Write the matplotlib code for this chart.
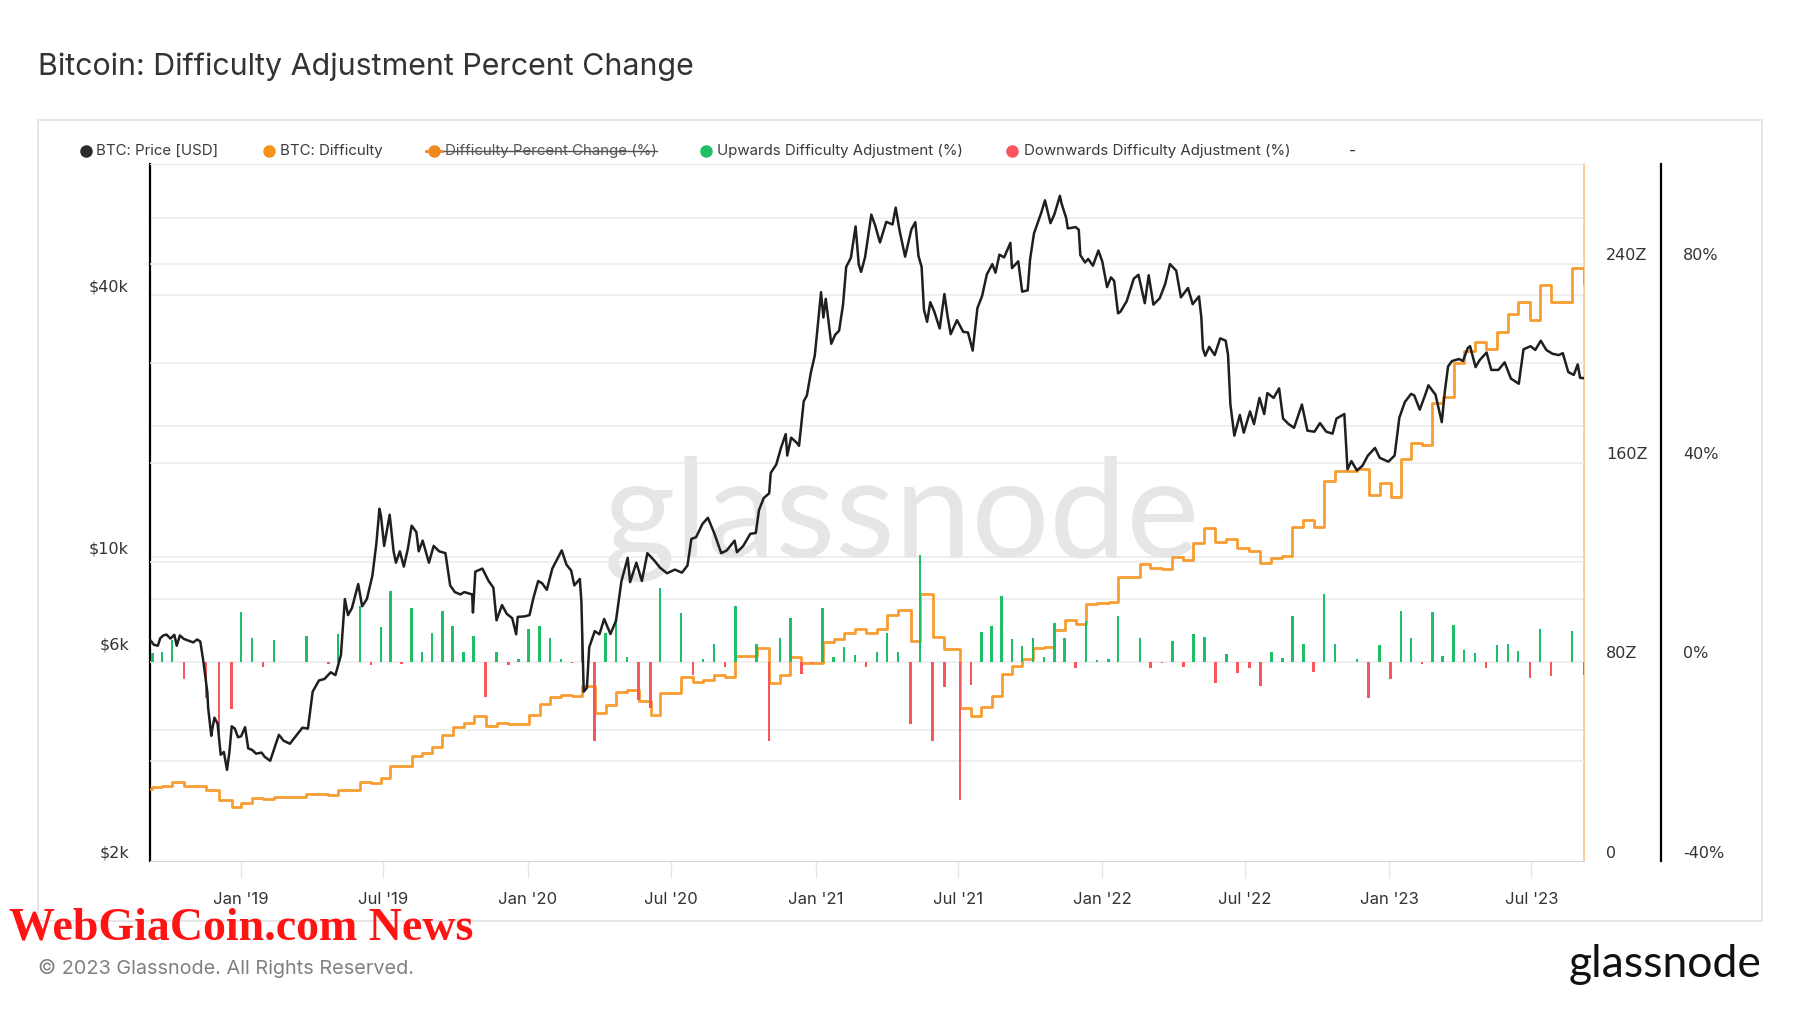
import matplotlib
matplotlib.use('Agg')
import matplotlib.pyplot as plt
import pandas as pd
from matplotlib.lines import Line2D
from matplotlib.patches import Rectangle
from matplotlib.transforms import blended_transform_factory, offset_copy

plt.rcParams['font.family'] = ['Inter', 'DejaVu Sans']

# ---------------- data ----------------
price_dates = [
    '2018-09-07', '2018-09-12', '2018-09-17', '2018-09-20', '2018-09-24', '2018-09-28', '2018-10-03',
    '2018-10-08', '2018-10-11', '2018-10-15', '2018-10-20', '2018-10-26', '2018-11-01', '2018-11-06',
    '2018-11-10', '2018-11-14', '2018-11-19', '2018-11-20', '2018-11-24', '2018-11-25', '2018-11-28',
    '2018-12-02', '2018-12-06', '2018-12-10', '2018-12-14', '2018-12-17', '2018-12-20', '2018-12-24',
    '2018-12-28', '2019-01-01', '2019-01-06', '2019-01-10', '2019-01-15', '2019-01-20', '2019-01-27',
    '2019-01-31', '2019-02-07', '2019-02-12', '2019-02-18', '2019-02-24', '2019-03-04', '2019-03-12',
    '2019-03-20', '2019-03-27', '2019-04-02', '2019-04-10', '2019-04-17', '2019-04-25', '2019-05-01',
    '2019-05-08', '2019-05-13', '2019-05-17', '2019-05-22', '2019-05-30', '2019-06-04', '2019-06-10',
    '2019-06-17', '2019-06-22', '2019-06-26', '2019-06-28', '2019-07-02', '2019-07-09', '2019-07-14',
    '2019-07-17', '2019-07-22', '2019-07-27', '2019-08-01', '2019-08-06', '2019-08-12', '2019-08-15',
    '2019-08-20', '2019-08-28', '2019-09-03', '2019-09-10', '2019-09-18', '2019-09-24', '2019-09-30',
    '2019-10-07', '2019-10-12', '2019-10-22', '2019-10-23', '2019-10-26', '2019-11-04', '2019-11-12',
    '2019-11-18', '2019-11-22', '2019-11-29', '2019-12-05', '2019-12-12', '2019-12-17', '2019-12-19',
    '2019-12-28', '2020-01-03', '2020-01-08', '2020-01-14', '2020-01-19', '2020-01-25', '2020-02-01',
    '2020-02-10', '2020-02-13', '2020-02-19', '2020-02-25', '2020-02-29', '2020-03-07', '2020-03-09',
    '2020-03-12', '2020-03-16', '2020-03-19', '2020-03-26', '2020-04-01', '2020-04-07', '2020-04-15',
    '2020-04-22', '2020-04-29', '2020-05-07', '2020-05-10', '2020-05-18', '2020-05-25', '2020-06-01',
    '2020-06-10', '2020-06-17', '2020-06-26', '2020-07-06', '2020-07-15', '2020-07-22', '2020-07-27',
    '2020-08-02', '2020-08-10', '2020-08-17', '2020-08-25', '2020-09-03', '2020-09-10', '2020-09-20',
    '2020-09-23', '2020-10-01', '2020-10-10', '2020-10-17', '2020-10-21', '2020-10-27', '2020-11-03',
    '2020-11-05', '2020-11-12', '2020-11-18', '2020-11-24', '2020-11-26', '2020-12-01', '2020-12-08',
    '2020-12-11', '2020-12-17', '2020-12-21', '2020-12-26', '2020-12-31', '2021-01-03', '2021-01-08',
    '2021-01-11', '2021-01-14', '2021-01-21', '2021-01-26', '2021-01-31', '2021-02-05', '2021-02-09',
    '2021-02-15', '2021-02-21', '2021-02-25', '2021-02-28', '2021-03-05', '2021-03-13', '2021-03-18',
    '2021-03-24', '2021-04-01', '2021-04-09', '2021-04-13', '2021-04-18', '2021-04-25', '2021-05-03',
    '2021-05-08', '2021-05-12', '2021-05-16', '2021-05-19', '2021-05-23', '2021-05-27', '2021-06-01',
    '2021-06-08', '2021-06-14', '2021-06-18', '2021-06-22', '2021-06-30', '2021-07-08', '2021-07-14',
    '2021-07-20', '2021-07-26', '2021-08-01', '2021-08-07', '2021-08-14', '2021-08-18', '2021-08-23',
    '2021-08-29', '2021-09-06', '2021-09-08', '2021-09-16', '2021-09-21', '2021-09-28', '2021-10-01',
    '2021-10-06', '2021-10-15', '2021-10-20', '2021-10-27', '2021-11-01', '2021-11-08', '2021-11-10',
    '2021-11-16', '2021-11-18', '2021-11-24', '2021-11-28', '2021-12-02', '2021-12-04', '2021-12-10',
    '2021-12-14', '2021-12-20', '2021-12-27', '2022-01-01', '2022-01-07', '2022-01-12', '2022-01-16',
    '2022-01-21', '2022-01-24', '2022-02-01', '2022-02-10', '2022-02-16', '2022-02-24', '2022-03-01',
    '2022-03-07', '2022-03-15', '2022-03-22', '2022-03-28', '2022-04-05', '2022-04-11', '2022-04-20',
    '2022-04-26', '2022-05-04', '2022-05-07', '2022-05-09', '2022-05-12', '2022-05-17', '2022-05-24',
    '2022-05-31', '2022-06-07', '2022-06-10', '2022-06-13', '2022-06-18', '2022-06-25', '2022-06-30',
    '2022-07-08', '2022-07-13', '2022-07-20', '2022-07-26', '2022-07-30', '2022-08-07', '2022-08-14',
    '2022-08-19', '2022-08-26', '2022-09-02', '2022-09-12', '2022-09-19', '2022-09-28', '2022-10-05',
    '2022-10-13', '2022-10-21', '2022-10-26', '2022-11-05', '2022-11-09', '2022-11-14', '2022-11-21',
    '2022-11-28', '2022-12-05', '2022-12-14', '2022-12-20', '2022-12-31', '2023-01-08', '2023-01-14',
    '2023-01-21', '2023-01-29', '2023-02-02', '2023-02-09', '2023-02-16', '2023-02-20', '2023-03-01',
    '2023-03-09', '2023-03-13', '2023-03-17', '2023-03-22', '2023-03-31', '2023-04-05', '2023-04-11',
    '2023-04-14', '2023-04-21', '2023-04-26', '2023-05-05', '2023-05-11', '2023-05-20', '2023-05-28',
    '2023-06-05', '2023-06-15', '2023-06-21', '2023-06-30', '2023-07-06', '2023-07-13', '2023-07-20',
    '2023-07-28', '2023-08-05', '2023-08-10', '2023-08-17', '2023-08-24', '2023-08-29', '2023-09-01',
    '2023-09-06']
price_usd = [
    6450, 6280, 6250, 6500, 6600, 6630, 6490, 6620, 6250, 6600, 6480, 6420, 6360, 6460,
    6390, 5740, 4880, 4500, 3880, 4000, 4270, 4140, 3510, 3560, 3240, 3550, 4080, 4030,
    3850, 3870, 4060, 3630, 3600, 3530, 3550, 3470, 3400, 3620, 3900, 3780, 3720, 3880,
    4050, 4030, 4900, 5200, 5240, 5430, 5350, 5950, 8000, 7350, 7630, 8660, 7700, 8000,
    9050, 10700, 12900, 12400, 10600, 12500, 10300, 9700, 10300, 9500, 10400, 11800, 11400, 10300,
    10900, 9700, 10600, 10300, 10200, 8600, 8300, 8200, 8300, 8200, 7450, 9250, 9400, 8800,
    8500, 7150, 7750, 7400, 7230, 6640, 7280, 7300, 7350, 8050, 8800, 8700, 8400, 9400,
    10100, 10350, 9600, 9300, 8600, 8900, 7900, 4900, 5000, 6200, 6750, 6640, 7200, 6650,
    7130, 8800, 9950, 8750, 9700, 8800, 10200, 9800, 9450, 9170, 9350, 9200, 9550, 11000,
    11100, 11900, 12300, 11350, 10200, 10350, 10900, 10250, 10600, 11300, 11350, 12800, 13650, 14000,
    15600, 16300, 17800, 19150, 17100, 18800, 18300, 18000, 22800, 23500, 26500, 29000, 32800, 40600,
    35500, 39200, 30900, 32400, 33100, 38000, 46400, 48700, 57500, 47000, 45200, 48800, 61200, 57700,
    52800, 58900, 58100, 63500, 56200, 49000, 56600, 58800, 49200, 46400, 37000, 34700, 38500, 36700,
    33500, 40200, 35800, 32500, 35000, 32900, 32800, 29800, 37300, 39800, 44600, 47100, 45000, 49500,
    48800, 52700, 46100, 47800, 40700, 41000, 48200, 55400, 61600, 66000, 58500, 61300, 67600, 65000,
    60100, 56900, 57100, 57300, 56500, 49400, 47500, 48400, 46700, 50600, 47700, 41700, 43900, 43100,
    36300, 36600, 38700, 43600, 44500, 38300, 44400, 38000, 39300, 42400, 47100, 45500, 39500, 41500,
    38100, 39700, 35500, 30100, 29000, 30400, 29100, 31800, 31400, 29100, 22400, 19000, 21200, 19300,
    21600, 20200, 23200, 21300, 23800, 23200, 24400, 20800, 20200, 19800, 22400, 19500, 19400, 20300,
    19400, 19200, 20800, 21300, 15900, 16600, 15800, 16200, 17100, 17800, 16900, 16550, 17100, 20900,
    22700, 23700, 23500, 21800, 23600, 24800, 23600, 20400, 24100, 27400, 28200, 28500, 28200, 30200,
    30500, 27300, 28300, 29500, 26900, 26900, 28000, 25700, 25000, 30000, 30500, 29900, 31400, 29900,
    29300, 29100, 29400, 26600, 26200, 27700, 25800, 25750]

# difficulty adjustments: date, percent change, difficulty level after (axis units Z)
adj_dates = [
    '2018-09-10', '2018-09-22', '2018-10-05', '2018-10-20', '2018-11-17', '2018-12-04', '2018-12-20',
    '2019-01-01', '2019-01-15', '2019-01-29', '2019-02-12', '2019-03-25', '2019-04-22', '2019-05-04',
    '2019-06-01', '2019-06-15', '2019-06-28', '2019-07-10', '2019-07-24', '2019-08-06', '2019-08-19',
    '2019-09-01', '2019-09-14', '2019-09-27', '2019-10-11', '2019-10-24', '2019-11-08', '2019-11-22',
    '2019-12-07', '2019-12-20', '2020-01-02', '2020-01-16', '2020-01-29', '2020-02-12', '2020-02-26',
    '2020-03-10', '2020-03-26', '2020-04-09', '2020-04-22', '2020-05-06', '2020-05-21', '2020-06-05',
    '2020-06-17', '2020-07-14', '2020-07-29', '2020-08-11', '2020-08-25', '2020-09-08', '2020-09-21',
    '2020-10-18', '2020-11-03', '2020-11-17', '2020-11-30', '2020-12-14', '2020-12-28', '2021-01-10',
    '2021-01-24', '2021-02-06', '2021-02-20', '2021-03-06', '2021-03-20', '2021-04-02', '2021-04-16',
    '2021-05-02', '2021-05-14', '2021-05-30', '2021-06-14', '2021-07-04', '2021-07-18', '2021-07-31',
    '2021-08-13', '2021-08-26', '2021-09-08', '2021-09-21', '2021-10-05', '2021-10-19', '2021-11-01',
    '2021-11-14', '2021-11-28', '2021-12-11', '2021-12-25', '2022-01-09', '2022-01-21', '2022-02-18',
    '2022-03-03', '2022-03-18', '2022-03-31', '2022-04-14', '2022-04-27', '2022-05-11', '2022-05-25',
    '2022-06-08', '2022-06-22', '2022-07-07', '2022-07-21', '2022-08-04', '2022-08-18', '2022-08-31',
    '2022-09-14', '2022-09-27', '2022-10-10', '2022-10-24', '2022-11-21', '2022-12-06', '2022-12-20',
    '2023-01-03', '2023-01-16', '2023-01-29', '2023-02-12', '2023-02-25', '2023-03-10', '2023-03-24',
    '2023-04-06', '2023-04-20', '2023-05-04', '2023-05-18', '2023-06-01', '2023-06-14', '2023-06-29',
    '2023-07-12', '2023-07-26', '2023-08-22', '2023-09-06']
adj_pct = [
    1.7, 2.0, 4.3, -3.5, -7.3, -15.1, -9.5,
    10.0, 4.8, -1.0, 4.3, 5.2, -0.5, 5.5,
    11.3, -0.7, 7.1, 14.2, -0.4, 10.9, 2.0,
    5.8, 10.3, 7.3, 2.0, 5.2, -7.0, 2.0,
    -0.7, 0.5, 6.7, 7.2, 4.7, 0.5, -0.3,
    6.8, -15.8, 5.7, 8.3, 1.0, -7.6, -9.2,
    14.9, 9.9, -2.7, 0.5, 3.6, -1.1, 11.3,
    3.6, -15.8, 4.8, 8.9, -2.4, -0.3, 10.8,
    1.0, 2.9, 1.3, -1.1, 1.9, 5.8, 1.9,
    -12.4, 21.5, -15.8, -5.1, -27.7, -4.6, 6.0,
    7.3, 13.2, 4.5, 3.1, 4.8, 0.9, 7.8,
    4.8, -1.3, 8.3, 0.3, 0.5, 9.3, 4.8,
    -1.3, -0.3, 4.1, -1.1, 5.6, 4.9, -4.3,
    1.5, -2.3, -1.3, -4.9, 1.9, 0.7, 9.3,
    3.5, -2.1, 13.6, 3.5, 0.5, -7.3, 3.3,
    -3.5, 10.3, 4.8, -0.4, 10.0, 1.2, 7.5,
    2.3, 1.7, -1.3, 3.3, 3.5, 2.1, -3.2,
    6.5, -2.9, 6.1, -2.6]
difficulty_start = 29.1
difficulty = [
    29.6, 30.2, 31.6, 30.2, 28.5, 24.5, 21.8,
    23.4, 25.2, 24.8, 25.8, 26.8, 26.7, 28.5,
    31.6, 31.4, 33.2, 38.3, 38.2, 42.1, 43.2,
    45.9, 50.6, 53.7, 55.5, 58.2, 54.2, 55.3,
    55.0, 55.2, 58.6, 62.9, 66.0, 66.5, 66.3,
    70.4, 59.3, 62.7, 67.8, 68.6, 64.3, 58.6,
    67.3, 74.0, 72.0, 72.7, 74.9, 74.0, 82.4,
    85.4, 71.6, 74.9, 81.8, 79.6, 79.4, 88.0,
    89.1, 91.4, 93.0, 91.6, 93.4, 98.7, 101.0,
    88.4, 107.2, 90.0, 85.1, 61.3, 58.2, 61.9,
    66.4, 75.3, 78.3, 81.1, 85.4, 86.0, 92.7,
    97.0, 95.4, 103.4, 103.7, 104.1, 113.9, 119.5,
    117.9, 117.2, 122.1, 120.8, 127.6, 133.7, 128.0,
    129.5, 125.8, 124.5, 119.6, 121.9, 122.7, 134.0,
    136.9, 134.2, 152.5, 156.5, 157.3, 147.2, 151.7,
    146.2, 161.3, 168.0, 167.3, 184.0, 186.2, 200.2,
    204.8, 208.3, 205.6, 212.4, 219.8, 224.4, 217.2,
    231.3, 224.6, 238.4, 232.2]

x_start, x_end = '2018-09-07', '2023-09-06'
x_tick_dates = ['2019-01-01', '2019-07-01', '2020-01-01', '2020-07-01', '2021-01-01',
                '2021-07-01', '2022-01-01', '2022-07-01', '2023-01-01', '2023-07-01']
x_tick_labels = ["Jan '19", "Jul '19", "Jan '20", "Jul '20", "Jan '21",
                 "Jul '21", "Jan '22", "Jul '22", "Jan '23", "Jul '23"]
price_ticks = [2000, 6000, 10000, 40000]
price_tick_labels = ['$2k', '$6k', '$10k', '$40k']
price_grid = [4000, 8000, 10000, 20000, 40000, 60000]
diff_ticks = [0, 80, 160, 240]
diff_tick_labels = ['0', '80Z', '160Z', '240Z']
diff_grid = [40, 80, 120, 160, 200, 240]
pct_ticks = [-40, 0, 40, 80]
pct_tick_labels = ['-40%', '0%', '40%', '80%']

# ---------------- layout helpers (pixel positions of the 1800x1013 image) ----------------
W, H = 1800, 1013
def fx(px):
    return px / W
def fy(py):
    return 1 - py / H

C_TEXT = '#333333'
C_ORANGE = '#f7931a'
C_GREEN = '#1fbf68'
C_RED = '#f7565c'
C_GRID = '#ebebeb'

fig = plt.figure(figsize=(18, 10.13), dpi=100)
fig.patch.set_facecolor('white')

# outer frame
fig.add_artist(Rectangle((fx(38), fy(921)), fx(1762) - fx(38), fy(120) - fy(921),
                         transform=fig.transFigure, fill=False, edgecolor='#e3e3e3', lw=1.3))

ax = fig.add_axes([fx(150), fy(861), fx(1584) - fx(150), fy(164) - fy(861)])
ax.set_yscale('log')
ax.set_ylim(2000, 80000)
ax.set_xlim(pd.Timestamp(x_start), pd.Timestamp(x_end))
ax.set_yticks([])
ax.minorticks_off()
ax.yaxis.set_tick_params(which='both', length=0, labelleft=False)
for g in price_grid:
    ax.axhline(g, color=C_GRID, lw=1.1, zorder=0)

ax_d = ax.twinx()
ax_d.set_ylim(0, 280)
for g in diff_grid:
    ax_d.axhline(g, color=C_GRID, lw=1.1, zorder=0)

ax_p = ax.twinx()
ax_p.set_ylim(-40, 100)

ax_pr = ax.twinx()
ax_pr.set_yscale('log')
ax_pr.set_ylim(2000, 80000)

for a in (ax_d, ax_p, ax_pr):
    a.set_yticks([])
    a.minorticks_off()
    a.tick_params(axis='y', which='both', length=0, labelright=False)
    for s in a.spines.values():
        s.set_visible(False)

ax.spines['left'].set_color('black')
ax.spines['left'].set_linewidth(1.6)
ax.spines['bottom'].set_color('#d6d6d6')
ax.spines['top'].set_color('#e6e6e6')
ax.spines['right'].set_color('#fbc88c')
ax.spines['right'].set_linewidth(1.2)

# watermark
ax.text(0.524, 0.49, 'glassnode', transform=ax.transAxes, ha='center', va='center',
        fontsize=99, color='#e6e6e6', family=['Lato', 'DejaVu Sans'], zorder=0)

# difficulty step line
step_x = pd.to_datetime([x_start] + adj_dates + [x_end])
step_y = [difficulty_start] + difficulty + [difficulty[-1]]
ax_d.step(step_x, step_y, where='post', color=C_ORANGE, lw=2.0, alpha=0.9)

# percent change bars
bar_x = pd.to_datetime(adj_dates)
bar_c = [C_GREEN if v >= 0 else C_RED for v in adj_pct]
ax_p.bar(bar_x, adj_pct, width=3.2, color=bar_c, linewidth=0)

# price line
ax_pr.plot(pd.to_datetime(price_dates), price_usd, color='#1f1f1f', lw=1.8)

# x axis
ax.set_xticks(pd.to_datetime(x_tick_dates))
ax.set_xticklabels(x_tick_labels)
ax.tick_params(axis='x', length=12, width=1, color='#e6e6e6', pad=10,
               labelsize=12, labelcolor=C_TEXT)

# y labels (drawn a few px above their value, as in the original)
lab_font = dict(fontsize=11.5, color=C_TEXT, family=['DejaVu Sans'], va='center')
t_left = offset_copy(blended_transform_factory(ax.transAxes, ax.transData), fig=fig, x=-21, y=8, units='dots')
for v, s in zip(price_ticks, price_tick_labels):
    ax.text(0, v, s, transform=t_left, ha='right', **lab_font)
t_diff = offset_copy(blended_transform_factory(ax_d.transAxes, ax_d.transData), fig=fig, x=22, y=8, units='dots')
for v, s in zip(diff_ticks, diff_tick_labels):
    ax_d.text(1, v, s, transform=t_diff, ha='left', clip_on=False, **lab_font)
t_pct = offset_copy(blended_transform_factory(ax_p.transAxes, ax_p.transData), fig=fig, x=99, y=8, units='dots')
for v, s in zip(pct_ticks, pct_tick_labels):
    ax_p.text(1, v, s, transform=t_pct, ha='left', clip_on=False, **lab_font)

# separate axis line for the percent scale
fig.add_artist(Line2D([fx(1661), fx(1661)], [fy(164), fy(861)], transform=fig.transFigure,
                      color='black', lw=1.6))

# title
fig.text(fx(38), fy(67), 'Bitcoin: Difficulty Adjustment Percent Change', fontsize=21.9,
         color=C_TEXT, ha='left', va='center')

# legend
leg_y = fy(151)
legend_items = [
    (86, 96, 'BTC: Price [USD]', '#2b2b2b', False),
    (269, 280, 'BTC: Difficulty', C_ORANGE, False),
    (434, 445, 'Difficulty Percent Change (%)', '#f08a1c', True),
    (706, 717, 'Upwards Difficulty Adjustment (%)', C_GREEN, False),
    (1012, 1024, 'Downwards Difficulty Adjustment (%)', C_RED, False),
]
renderer = fig.canvas.get_renderer()
for dot_x, txt_x, label, col, struck in legend_items:
    fig.add_artist(Line2D([fx(dot_x)], [leg_y], transform=fig.transFigure, marker='o',
                          markersize=8, color=col, lw=0))
    t = fig.text(fx(txt_x), leg_y, label, fontsize=10.8, color='#3a3a3a' if not struck else '#555555',
                 ha='left', va='center')
    if struck:
        bb = t.get_window_extent(renderer)
        fig.add_artist(Line2D([fx(dot_x - 8), bb.x1 / W], [leg_y, leg_y], transform=fig.transFigure,
                              color='#555555', lw=1))
        fig.add_artist(Line2D([fx(dot_x - 8), fx(dot_x + 8)], [leg_y, leg_y], transform=fig.transFigure,
                              color='#f08a1c', lw=2))
fig.text(fx(1352), leg_y, '-', fontsize=11, color='#3a3a3a', ha='center', va='center')

# footer
fig.text(fx(38), fy(968), '\u00a9 2023 Glassnode. All Rights Reserved.', fontsize=14.3,
         color='#808080', ha='left', va='center')
fig.text(fx(1762), fy(964), 'glassnode', fontsize=32, color='#111111', ha='right', va='center',
         family=['Lato', 'DejaVu Sans'])
fig.text(fx(9), fy(928), 'WebGiaCoin.com News', fontsize=33, color='#ff1414', ha='left', va='center',
         family=['Liberation Serif', 'DejaVu Serif'], fontweight='bold')

fig.savefig('out.png', dpi=100, facecolor='white')
